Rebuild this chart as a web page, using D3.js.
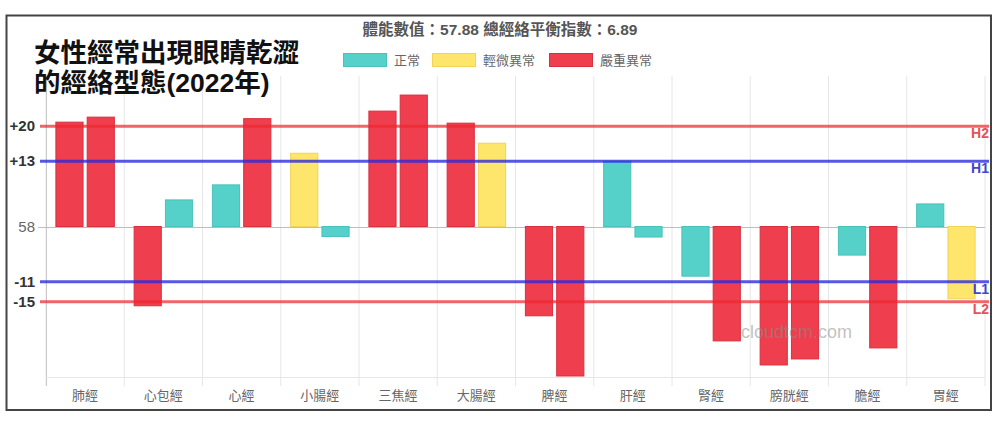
<!DOCTYPE html>
<html>
<head>
<meta charset="utf-8">
<script src="https://cdn.jsdelivr.net/npm/d3@7"></script>
<style>
  html, body { margin: 0; padding: 0; background: #fff; }
  svg { display: block; }
  text { font-family: "Liberation Sans", "Noto Sans CJK TC", sans-serif; }
</style>
</head>
<body>
<svg id="chart" width="1000" height="421"></svg>
<script>
// Meridian names along the x axis
const categories = ["肺經", "心包經", "心經", "小腸經", "三焦經", "大腸經", "脾經", "肝經", "腎經", "膀胱經", "膽經", "胃經"];
// Deviation from the baseline for the two readings of each meridian
const firstValues  = [20.8, -15.8, 8.3, 14.6, 23.0, 20.6, -17.8, 13.0, -9.9, -27.6, -5.7, 4.5];
const secondValues = [21.8, 5.3, 21.5, -2.0, 26.2, 16.6, -29.8, -2.1, -22.8, -26.4, -24.2, -14.4];
// Status level of each bar: 0 正常, 1 輕微異常, 2 嚴重異常
const firstLevels  = [2, 2, 0, 1, 2, 2, 2, 0, 0, 2, 0, 0];
const secondLevels = [2, 0, 2, 0, 2, 1, 2, 0, 2, 2, 2, 1];
const levelNames = ["正常", "輕微異常", "嚴重異常"];
// Y axis ticks: offsets and their labels (the baseline is shown as the score)
const tickValues = [20, 13, 0, -11, -15];
const tickLabels = ["+20", "+13", "58", "-11", "-15"];
// Reference lines
const refLines = [
  { name: "H2", value: 20 },
  { name: "H1", value: 13 },
  { name: "L1", value: -11 },
  { name: "L2", value: -15 }
];
const headerText = "體能數值：57.88 總經絡平衡指數：6.89";
const titleLines = ["女性經常出現眼睛乾澀", "的經絡型態(2022年)"];

const fills   = ["#56d1c9", "#fee56b", "#ef3e4e"];
const borders = ["#48c2ba", "#f2d35a", "#d9303f"];
const refColors = { H2: "rgba(236,40,48,0.72)", L2: "rgba(236,40,48,0.72)", H1: "rgba(40,40,222,0.78)", L1: "rgba(40,40,222,0.78)" };
const refLabelColors = { H2: "#e8505a", L2: "#e8505a", H1: "#4444cc", L1: "#4444cc" };

const svg = d3.select("#chart");
const plot = { left: 46, right: 985, top: 76, bottom: 377 };

const x = d3.scaleBand().domain(categories).range([plot.left, plot.right]);
const y = d3.scaleLinear().domain([-30, 30]).range([plot.bottom, plot.top]);

// Frame
svg.append("rect")
  .attr("x", 6.5).attr("y", 15.5).attr("width", 984.5).attr("height", 394.5)
  .attr("fill", "none").attr("stroke", "#444").attr("stroke-width", 2);

// Vertical grid lines at category boundaries
const bounds = categories.map(c => x(c)).concat([plot.right]);
svg.append("g").selectAll("line").data(bounds).join("line")
  .attr("x1", d => d).attr("x2", d => d)
  .attr("y1", plot.top).attr("y2", plot.bottom + 9)
  .attr("stroke", "#e6e6e6").attr("stroke-width", 1);

// Left axis line
svg.append("line")
  .attr("x1", plot.left + 0.5).attr("x2", plot.left + 0.5)
  .attr("y1", plot.top).attr("y2", plot.bottom + 9)
  .attr("stroke", "#c8c8c8").attr("stroke-width", 1);

// Bottom axis line
svg.append("line")
  .attr("x1", plot.left).attr("x2", plot.right)
  .attr("y1", plot.bottom + 0.5).attr("y2", plot.bottom + 0.5)
  .attr("stroke", "#e6e6e6").attr("stroke-width", 1);

// Baseline (zero) line
svg.append("line")
  .attr("x1", plot.left - 8).attr("x2", plot.right)
  .attr("y1", Math.round(y(0)) + 0.5).attr("y2", Math.round(y(0)) + 0.5)
  .attr("stroke", "#bdbdbd").attr("stroke-width", 1);

// Bars, built from the two series (80% of the category, 90% per bar)
const barRows = [];
categories.forEach((c, i) => {
  barRows.push({ cat: c, s: 0, v: firstValues[i], lvl: firstLevels[i] });
  barRows.push({ cat: c, s: 1, v: secondValues[i], lvl: secondLevels[i] });
});
const catPad = x.bandwidth() * 0.1;
const barScale = d3.scaleBand().domain([0, 1]).range([catPad, x.bandwidth() - catPad]).paddingInner(0.1).paddingOuter(0.05);

svg.append("g").selectAll("rect").data(barRows).join("rect")
  .attr("x", d => x(d.cat) + barScale(d.s) + 0.5)
  .attr("width", barScale.bandwidth() - 1)
  .attr("y", d => Math.min(y(d.v), y(0)))
  .attr("height", d => Math.abs(y(d.v) - y(0)))
  .attr("fill", d => fills[d.lvl])
  .attr("stroke", d => borders[d.lvl])
  .attr("stroke-width", 1);

// Reference lines
svg.append("g").selectAll("line").data(refLines).join("line")
  .attr("x1", plot.left - 6).attr("x2", plot.right + 4)
  .attr("y1", d => y(d.value)).attr("y2", d => y(d.value))
  .attr("stroke", d => refColors[d.name]).attr("stroke-width", 3);

svg.append("g").selectAll("text").data(refLines).join("text")
  .attr("x", 989).attr("y", d => y(d.value) + 12)
  .attr("text-anchor", "end")
  .attr("font-size", 14).attr("font-weight", "bold")
  .attr("fill", d => refLabelColors[d.name])
  .text(d => d.name);

// Y tick labels
svg.append("g").selectAll("text").data(tickValues).join("text")
  .attr("x", 35).attr("y", d => y(d) + 5)
  .attr("text-anchor", "end")
  .attr("font-size", 15)
  .attr("font-weight", (d, i) => tickLabels[i] === "58" ? "normal" : "bold")
  .attr("fill", (d, i) => tickLabels[i] === "58" ? "#666" : "#333")
  .text((d, i) => tickLabels[i]);

// X tick labels
svg.append("g").selectAll("text").data(categories).join("text")
  .attr("x", d => x(d) + x.bandwidth() / 2).attr("y", 400)
  .attr("text-anchor", "middle")
  .attr("font-size", 13).attr("fill", "#666")
  .attr("font-family", "Noto Sans CJK TC")
  .text(d => d);

// Watermark
svg.append("text")
  .attr("x", 741).attr("y", 338)
  .attr("font-size", 18).attr("fill", "rgba(140,140,140,0.55)")
  .attr("font-family", "Liberation Sans")
  .text("cloudtcm.com");

// Header
svg.append("text")
  .attr("x", 500).attr("y", 35)
  .attr("text-anchor", "middle")
  .attr("font-size", 15.5).attr("font-weight", "bold").attr("fill", "#555")
  .text(headerText);

// Legend
const legendX = [343, 432, 549];
const legend = svg.append("g").selectAll("g").data(levelNames).join("g")
  .attr("transform", (d, i) => `translate(${legendX[i]},53)`);
legend.append("rect")
  .attr("x", 0.5).attr("y", 0.5).attr("width", 43).attr("height", 13)
  .attr("fill", (d, i) => fills[i]).attr("stroke", (d, i) => borders[i]).attr("stroke-width", 1);
legend.append("text")
  .attr("x", 51).attr("y", 12)
  .attr("font-size", 13).attr("fill", "#666")
  .attr("font-family", "Noto Sans CJK TC")
  .text(d => d);

// Title
svg.append("g").selectAll("text").data(titleLines).join("text")
  .attr("x", 34).attr("y", (d, i) => 62 + i * 30)
  .attr("font-size", 26.5).attr("font-weight", "bold").attr("fill", "#111")
  .attr("font-family", "Noto Sans CJK TC")
  .text(d => d);
</script>
</body>
</html>
